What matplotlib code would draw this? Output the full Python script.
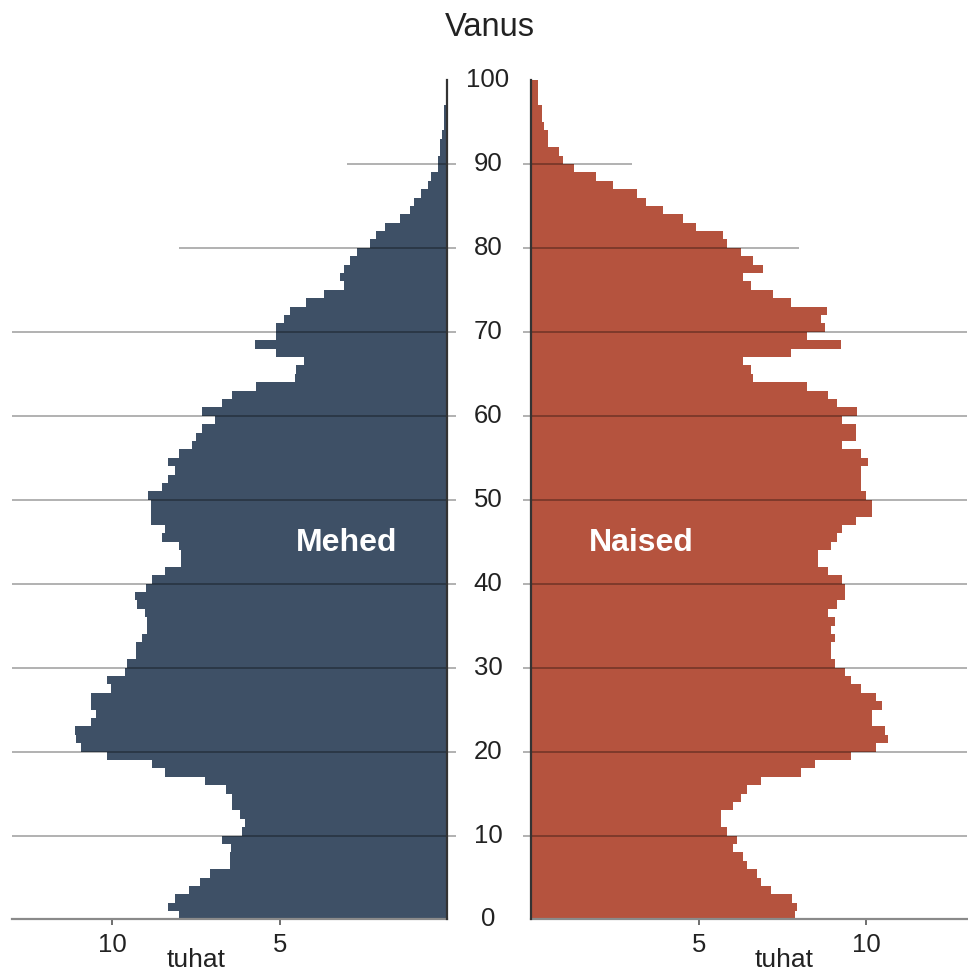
# Rahvastikupüramiid: mehed vasakul, naised paremal (tuhat inimest)

import numpy as np
import matplotlib
matplotlib.use("Agg")
import matplotlib.pyplot as plt
from matplotlib.transforms import blended_transform_factory

plt.rcParams["font.family"] = ["Liberation Sans", "DejaVu Sans"]

# ─── Andmed ────────────────────────────────────────────
VANUS = np.arange(100)

MEHED = [
    8.00, 8.35, 8.12, 7.70, 7.40, 7.10, 6.50, 6.50, 6.45, 6.73,
    6.14, 6.03, 6.20, 6.44, 6.44, 6.60, 7.23, 8.42, 8.83, 10.15,
    10.95, 11.08, 11.12, 10.63, 10.48, 10.63, 10.63, 10.03, 10.15, 9.62,
    9.57, 9.30, 9.30, 9.13, 8.97, 8.97, 9.02, 9.27, 9.32, 9.00,
    8.83, 8.42, 7.95, 7.95, 8.00, 8.52, 8.43, 8.85, 8.85, 8.85,
    8.95, 8.53, 8.35, 8.13, 8.35, 8.00, 7.62, 7.50, 7.33, 6.93,
    7.33, 6.74, 6.44, 5.71, 4.56, 4.51, 4.28, 5.11, 5.73, 5.11,
    5.11, 4.89, 4.69, 4.21, 3.68, 3.09, 3.19, 3.08, 2.91, 2.71,
    2.30, 2.12, 1.87, 1.42, 1.12, 0.99, 0.80, 0.57, 0.50, 0.29,
    0.29, 0.22, 0.22, 0.17, 0.09, 0.09, 0.09, 0.04, 0.04, 0.04,
]

NAISED = [
    7.87, 7.94, 7.77, 7.16, 6.86, 6.74, 6.44, 6.31, 6.03, 6.15,
    5.85, 5.67, 5.67, 6.03, 6.25, 6.44, 6.86, 8.06, 8.47, 9.55,
    10.28, 10.63, 10.56, 10.15, 10.15, 10.45, 10.28, 9.85, 9.55, 9.36,
    9.06, 8.95, 8.95, 9.05, 8.95, 9.05, 8.84, 9.13, 9.36, 9.36,
    9.26, 8.84, 8.54, 8.54, 8.95, 9.13, 9.26, 9.68, 10.15, 10.15,
    9.98, 9.85, 9.85, 9.85, 10.03, 9.85, 9.26, 9.68, 9.68, 9.26,
    9.73, 9.13, 8.84, 8.24, 6.62, 6.56, 6.32, 7.76, 9.23, 8.24,
    8.76, 8.63, 8.81, 7.76, 7.22, 6.56, 6.32, 6.91, 6.61, 6.25,
    5.85, 5.72, 4.93, 4.53, 3.93, 3.44, 3.16, 2.43, 1.94, 1.28,
    0.94, 0.82, 0.52, 0.50, 0.40, 0.34, 0.34, 0.22, 0.22, 0.22,
]

# ruudujooned: vanus ja kui kaugele (tuhat) joon ulatub
JOONE_VANUS = [10, 20, 30, 40, 50, 60, 70, 80, 90]
JOONE_ULATUS = [13, 13, 13, 13, 13, 13, 13, 8, 3]

X_TICKS = [5, 10]
Y_TICKS = [0, 10, 20, 30, 40, 50, 60, 70, 80, 90, 100]

VARV_MEHED = "#3e5066"
VARV_NAISED = "#b5533e"
TEKST = "#222222"

# ─── Joonis ────────────────────────────────────────────
fig = plt.figure(figsize=(9.68, 9.73), dpi=100)
ax_m = fig.add_axes([0.0124, 0.055, 0.4497, 0.8628])
ax_n = fig.add_axes([0.5486, 0.055, 0.4505, 0.8628])

ax_m.barh(VANUS + 0.5, MEHED, height=1.0, color=VARV_MEHED, linewidth=0, zorder=2)
ax_n.barh(VANUS + 0.5, NAISED, height=1.0, color=VARV_NAISED, linewidth=0, zorder=2)

ax_m.set_xlim(13, 0)
ax_n.set_xlim(0, 13)

for ax, sisemine, valimine in ((ax_m, "right", "left"), (ax_n, "left", "right")):
    ax.set_ylim(0, 100)
    ax.set_yticks([])
    ax.set_xticks(X_TICKS)
    ax.set_xticklabels([str(t) for t in X_TICKS])
    ax.tick_params(axis="x", direction="out", length=4, width=1.2,
                   color="#555555", labelsize=18.5, labelcolor=TEKST, pad=6)
    ax.spines["top"].set_visible(False)
    ax.spines[valimine].set_visible(False)
    ax.spines[sisemine].set_color("#333333")
    ax.spines[sisemine].set_linewidth(1.6)
    ax.spines[sisemine].set_zorder(4)
    ax.spines["bottom"].set_color("#8a8a8a")
    ax.spines["bottom"].set_linewidth(1.6)

# ruudujooned üle tulpade, väike sakk keskele
for vanus, ulatus in zip(JOONE_VANUS, JOONE_ULATUS):
    ax_m.hlines(vanus, ulatus, -0.25, color="black", alpha=0.33,
                linewidth=1.3, zorder=3, clip_on=False)
    ax_n.hlines(vanus, -0.25, ulatus, color="black", alpha=0.33,
                linewidth=1.3, zorder=3, clip_on=False)

# vanuse sildid keskel
trans = blended_transform_factory(fig.transFigure, ax_m.transData)
for v in Y_TICKS:
    ax_m.text(0.5041, v, str(v), transform=trans, ha="center", va="center",
              fontsize=18.5, color=TEKST, clip_on=False)

fig.text(0.5062, 1 - 27 / 973, "Vanus", ha="center", va="center",
         fontsize=23.5, color=TEKST)

ax_m.text(3.0, 44.9, "Mehed", ha="center", va="center", color="white",
          fontsize=23, fontweight="bold", zorder=5)
ax_n.text(3.28, 44.9, "Naised", ha="center", va="center", color="white",
          fontsize=23, fontweight="bold", zorder=5)

fig.text(196 / 968, 1 - 960 / 973, "tuhat", ha="center", va="center",
         fontsize=19, color=TEKST)
fig.text(784 / 968, 1 - 960 / 973, "tuhat", ha="center", va="center",
         fontsize=19, color=TEKST)

fig.savefig("out.png", dpi=100)
